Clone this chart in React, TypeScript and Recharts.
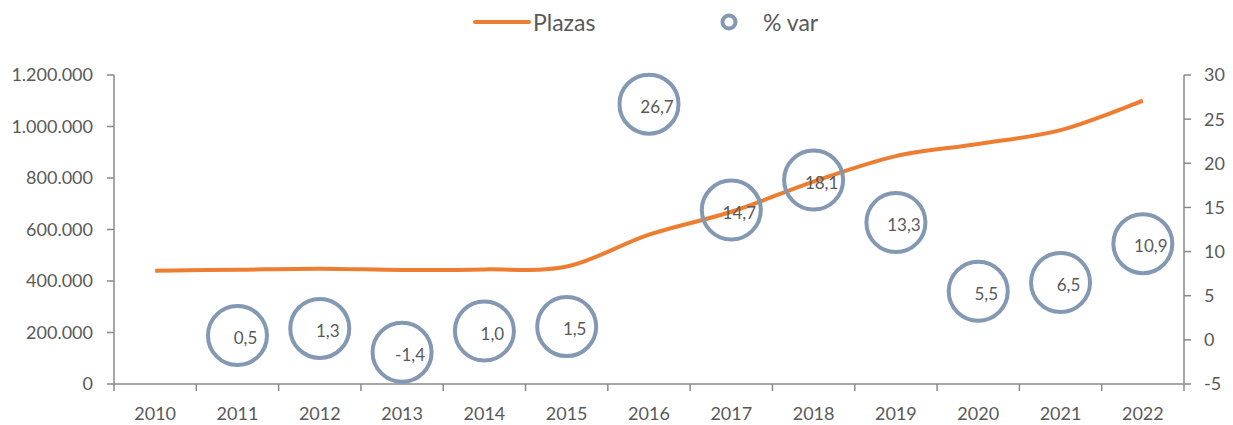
import React from 'react';
import { ComposedChart, Line, Scatter, XAxis, YAxis, Legend } from 'recharts';

const years: string[] = ['2010', '2011', '2012', '2013', '2014', '2015', '2016', '2017', '2018', '2019', '2020', '2021', '2022'];
const plazas: number[] = [440000, 444000, 448000, 443000, 445000, 456000, 580000, 669000, 786000, 885000, 932000, 986000, 1100000];
const pctVar: (number | null)[] = [null, 0.5, 1.3, -1.4, 1.0, 1.5, 26.7, 14.7, 18.1, 13.3, 5.5, 6.5, 10.9];
const leftTicks: number[] = [0, 200000, 400000, 600000, 800000, 1000000, 1200000];
const rightTicks: number[] = [-5, 0, 5, 10, 15, 20, 25, 30];

const data = years.map((y, i) => ({ x: i, year: y, plazas: plazas[i], pct: pctVar[i] }));
const xTicks: number[] = [];
for (let i = -0.5; i <= years.length - 0.5; i += 0.5) xTicks.push(i);

const FONT = 'Lato, "Open Sans", sans-serif';
const TEXT = '#595959';
const AXIS = '#8a8a8a';
const ORANGE = '#ED7D31';
const BLUEGRAY = '#8398B2';

const fmtThousands = (v: number) => String(v).replace(/\B(?=(\d{3})+(?!\d))/g, '.');
const fmtPct = (v: number) => v.toFixed(1).replace('.', ',');

// Excel-like smoothing (Catmull-Rom through points)
const catmullRom = (context: any) => {
  let pts: [number, number][] = [];
  return {
    areaStart() {},
    areaEnd() {},
    lineStart() { pts = []; },
    point(x: number, y: number) { pts.push([+x, +y]); },
    lineEnd() {
      const n = pts.length;
      if (n === 0) return;
      context.moveTo(pts[0][0], pts[0][1]);
      if (n === 1) return;
      for (let i = 0; i < n - 1; i++) {
        const p0 = pts[i - 1] || pts[i];
        const p1 = pts[i];
        const p2 = pts[i + 1];
        const p3 = pts[i + 2] || pts[i + 1];
        const c1x = p1[0] + (p2[0] - p0[0]) / 6;
        const c1y = p1[1] + (p2[1] - p0[1]) / 6;
        const c2x = p2[0] - (p3[0] - p1[0]) / 6;
        const c2y = p2[1] - (p3[1] - p1[1]) / 6;
        context.bezierCurveTo(c1x, c1y, c2x, c2y, p2[0], p2[1]);
      }
    },
  };
};

const TICK_SIZE = 7;
const TICK_MARGIN = 0;

const XTick = (props: any) => {
  const { x, y, payload } = props;
  const axisY = y - TICK_SIZE - TICK_MARGIN;
  const v = payload.value as number;
  if (Math.abs(v - Math.round(v)) > 0.01) {
    return <line x1={x} x2={x} y1={axisY} y2={axisY + TICK_SIZE} stroke={AXIS} strokeWidth={1.5} />;
  }
  const label = years[Math.round(v)] ?? '';
  return (
    <text x={x} y={axisY + 36} textAnchor="middle" fill={TEXT} fontSize={18} fontFamily={FONT}>
      {label}
    </text>
  );
};

const CircleShape = (props: any) => {
  const { cx, cy, payload } = props;
  if (payload == null || payload.pct == null || cx == null || cy == null) return <g />;
  return (
    <g>
      <circle cx={cx} cy={cy} r={29.5} fill="none" stroke={BLUEGRAY} strokeWidth={4} />
      <text x={cx + 8} y={cy + 2} textAnchor="middle" dominantBaseline="central" fill={TEXT} fontSize={17} fontFamily={FONT}>
        {fmtPct(payload.pct)}
      </text>
    </g>
  );
};

const LegendContent = () => (
  <svg width={1233} height={75} style={{ display: 'block' }}>
    <line x1={475} x2={529} y1={22} y2={22} stroke={ORANGE} strokeWidth={4} strokeLinecap="round" />
    <text x={533} y={22} dominantBaseline="central" fill={TEXT} fontSize={23} fontFamily={FONT}>Plazas</text>
    <circle cx={729} cy={22} r={6.5} fill="none" stroke={BLUEGRAY} strokeWidth={4} />
    <text x={763} y={22} dominantBaseline="central" fill={TEXT} fontSize={23} fontFamily={FONT}>% var</text>
  </svg>
);

export default function App() {
  return (
    <div style={{ position: 'absolute', left: 0, top: 0, width: 1233, height: 425, background: '#fff' }}>
      <ComposedChart
        width={1233}
        height={425}
        data={data}
        margin={{ top: 0, right: 0, bottom: 0, left: 0 }}
        style={{ fontFamily: FONT }}
      >
        <Legend verticalAlign="top" align="left" height={75} content={<LegendContent />} wrapperStyle={{ top: 0, left: 0 }} />
        <XAxis
          dataKey="x"
          type="number"
          domain={[-0.5, years.length - 0.5]}
          ticks={xTicks}
          interval={0}
          tick={<XTick />}
          tickLine={false}
          tickSize={TICK_SIZE}
          tickMargin={TICK_MARGIN}
          axisLine={{ stroke: AXIS, strokeWidth: 1.5 }}
          height={41}
          allowDataOverflow
        />
        <YAxis
          yAxisId="l"
          domain={[0, 1200000]}
          ticks={leftTicks}
          interval={0}
          tickFormatter={fmtThousands}
          width={114}
          tickSize={7}
          tickMargin={14}
          tick={{ fill: TEXT, fontSize: 18, fontFamily: FONT }}
          tickLine={{ stroke: AXIS, strokeWidth: 1.5 }}
          axisLine={{ stroke: AXIS, strokeWidth: 1.5 }}
        />
        <YAxis
          yAxisId="r"
          orientation="right"
          domain={[-5, 30]}
          ticks={rightTicks}
          interval={0}
          width={49}
          tickSize={7}
          tickMargin={13}
          tick={{ fill: TEXT, fontSize: 18, fontFamily: FONT, textAnchor: 'start' }}
          tickLine={{ stroke: AXIS, strokeWidth: 1.5 }}
          axisLine={{ stroke: AXIS, strokeWidth: 1.5 }}
        />
        <Line
          yAxisId="l"
          type={catmullRom as any}
          dataKey="plazas"
          stroke={ORANGE}
          strokeWidth={4}
          dot={false}
          activeDot={false}
          isAnimationActive={false}
          legendType="none"
        />
        <Scatter
          yAxisId="r"
          dataKey="pct"
          shape={<CircleShape />}
          isAnimationActive={false}
          legendType="none"
        />
      </ComposedChart>
    </div>
  );
}
